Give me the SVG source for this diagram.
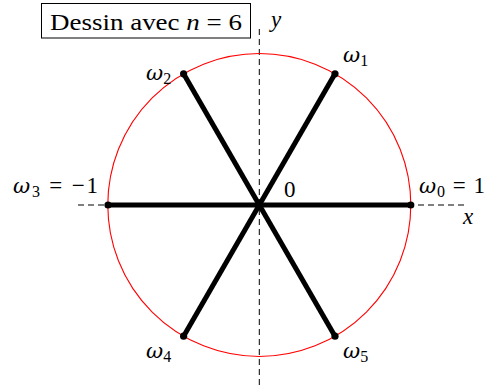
<svg xmlns="http://www.w3.org/2000/svg" width="486" height="388" viewBox="0 0 486 388">
<style>
text{font-family:"Liberation Serif",serif;font-size:23px;fill:#000}
.it{font-style:italic}
.om{font-family:"DejaVu Serif",serif;font-style:italic;font-size:21px}
.sub{font-size:16px;font-style:normal}
.axis{stroke:#000;stroke-width:1;stroke-dasharray:6,4;fill:none}
.spoke{stroke:#000;stroke-width:5;stroke-linecap:butt}
.dot{fill:#000}
</style>
<rect width="486" height="388" fill="#fff"/>
<g id="axes">
<line class="axis" x1="78" y1="205" x2="468" y2="205"/>
<line class="axis" x1="259.3" y1="29" x2="259.3" y2="388"/>
<text class="it" x="463" y="224">x</text>
<text class="it" x="271" y="27">y</text>
</g>
<g id="title">
<rect x="41.5" y="3.5" width="209" height="34.5" fill="#fff" stroke="#000" stroke-width="1"/>
<text x="50" y="30" textLength="192" lengthAdjust="spacingAndGlyphs">Dessin avec <tspan class="it">n</tspan> = 6</text>
</g>
<g id="circle">
<circle cx="259.3" cy="205" r="151.5" fill="none" stroke="#ff0000" stroke-width="1.1"/>
</g>
<g id="connectors">
<line class="spoke" x1="108" y1="205" x2="410.8" y2="205"/>
<line class="spoke" x1="335" y1="73.8" x2="183.6" y2="336.2"/>
<line class="spoke" x1="183.6" y1="73.8" x2="335" y2="336.2"/>
</g>
<g id="w0"><circle class="dot" cx="410.8" cy="205" r="3.6"/><text x="419" y="193" textLength="66" lengthAdjust="spacing"><tspan class="om">ω</tspan><tspan class="sub" dy="4">0</tspan><tspan dy="-4"> = 1</tspan></text></g>
<g id="w1"><circle class="dot" cx="335" cy="73.8" r="3.6"/><text x="343" y="62"><tspan class="om">ω</tspan><tspan class="sub" dy="4">1</tspan></text></g>
<g id="w2"><circle class="dot" cx="183.6" cy="73.8" r="3.6"/><text x="146" y="80"><tspan class="om">ω</tspan><tspan class="sub" dy="4">2</tspan></text></g>
<g id="w3"><circle class="dot" cx="108" cy="205" r="3.6"/><text x="13" y="193" textLength="85" lengthAdjust="spacing"><tspan class="om">ω</tspan><tspan class="sub" dy="4">3</tspan><tspan dy="-4"> = −1</tspan></text></g>
<g id="w4"><circle class="dot" cx="183.6" cy="336.2" r="3.6"/><text x="146" y="358"><tspan class="om">ω</tspan><tspan class="sub" dy="4">4</tspan></text></g>
<g id="w5"><circle class="dot" cx="335" cy="336.2" r="3.6"/><text x="343" y="358"><tspan class="om">ω</tspan><tspan class="sub" dy="4">5</tspan></text></g>
<g id="origin"><text x="284" y="197">0</text></g>
</svg>
